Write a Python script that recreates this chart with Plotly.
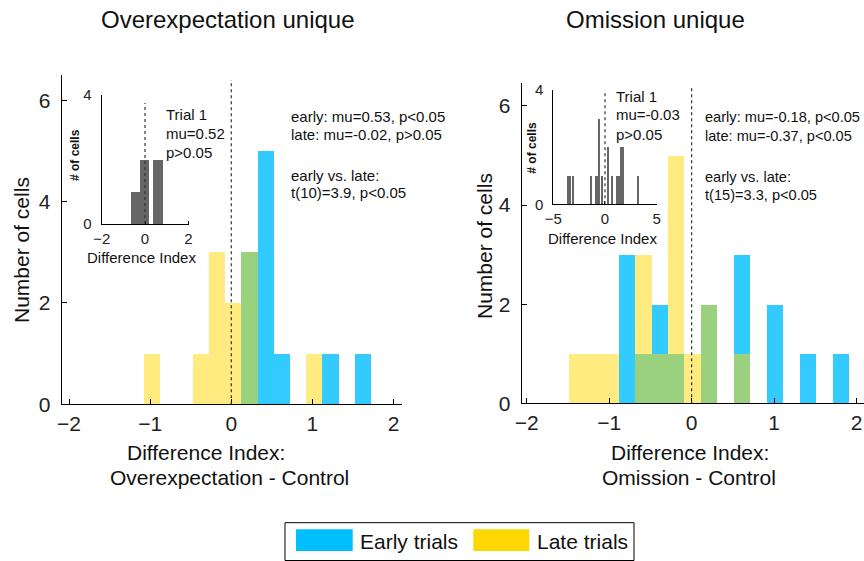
import plotly.graph_objects as go

# ---------------- data ----------------
# Overexpectation unique: bin centres (width 0.2) and counts
ov_centers = [-0.98, -0.78, -0.58, -0.38, -0.18, 0.02, 0.22, 0.42, 0.62, 0.82, 1.02, 1.22, 1.42, 1.62]
ov_early = [0, 0, 0, 0, 0, 0, 3, 5, 1, 0, 0, 1, 0, 1]
ov_late = [1, 0, 0, 1, 3, 2, 3, 0, 0, 0, 1, 0, 0, 0]

# Omission unique
om_centers = [-1.39, -1.19, -0.99, -0.79, -0.59, -0.39, -0.19, 0.01, 0.21, 0.41, 0.61, 0.81, 1.01, 1.21, 1.41, 1.61, 1.81]
om_early = [0, 0, 0, 3, 1, 2, 1, 0, 2, 0, 3, 0, 2, 0, 1, 0, 1]
om_late = [1, 1, 1, 0, 3, 1, 5, 1, 2, 0, 1, 0, 0, 0, 0, 0, 0]

# Insets: trial 1 histograms
ov_t1_centers = [-0.46, -0.03, 0.58]
ov_t1_counts = [1, 2, 2]
om_t1_centers = [-3.5, -3.33, -3.0, -1.33, -0.82, -0.66, -0.53, -0.27, 0.32, 0.72, 1.21, 1.37, 1.6, 1.76, 3.22]
om_t1_counts = [1, 1, 1, 1, 1, 1, 3, 1, 2, 1, 1, 1, 2, 2, 1]

main_ticks_x = [-2, -1, 0, 1, 2]
main_ticks_y = [0, 2, 4, 6]

ov_stats = ["early: mu=0.53, p<0.05", "late: mu=-0.02, p>0.05", "early vs. late:", "t(10)=3.9, p<0.05"]
om_stats = ["early: mu=-0.18, p<0.05", "late: mu=-0.37, p<0.05", "early vs. late:", "t(15)=3.3, p<0.05"]
ov_trial = ["Trial 1", "mu=0.52", "p>0.05"]
om_trial = ["Trial 1", "mu=-0.03", "p>0.05"]

BLUE = "#00BFFF"
GOLD = "#FFD700"
GRAY = "#666666"
FONT = "Liberation Sans, Arial, sans-serif"

W, H = 864, 561


def px(x):
    return x / W


def py(y):
    return 1 - y / H


fig = go.Figure()

# main bars
for xa, ya, cen, e, l in [("x", "y", ov_centers, ov_early, ov_late),
                          ("x2", "y2", om_centers, om_early, om_late)]:
    fig.add_trace(go.Bar(x=cen, y=e, width=0.2, marker=dict(color=BLUE, line=dict(width=0)),
                         opacity=0.8, xaxis=xa, yaxis=ya, showlegend=False))
    fig.add_trace(go.Bar(x=cen, y=l, width=0.2, marker=dict(color=GOLD, line=dict(width=0)),
                         opacity=0.5, xaxis=xa, yaxis=ya, showlegend=False))

# insets
fig.add_trace(go.Bar(x=ov_t1_centers, y=ov_t1_counts, width=0.44,
                     marker=dict(color=GRAY, line=dict(width=0)), xaxis="x3", yaxis="y3", showlegend=False))
fig.add_trace(go.Bar(x=om_t1_centers, y=om_t1_counts, width=0.15,
                     marker=dict(color=GRAY, line=dict(width=0)), xaxis="x4", yaxis="y4", showlegend=False))

axis_common = dict(showline=True, linecolor="black", linewidth=1, ticks="inside", ticklen=5,
                   tickcolor="black", showgrid=False, zeroline=False, automargin=False,
                   tickfont=dict(family=FONT, size=21, color="#222"))
inset_common = dict(axis_common)
inset_common["tickfont"] = dict(family=FONT, size=15, color="#222")
inset_common["ticklen"] = 3

fig.update_layout(
    width=W, height=H, margin=dict(l=0, r=0, t=0, b=0, pad=0, autoexpand=False),
    paper_bgcolor="white", plot_bgcolor="rgba(0,0,0,0)",
    barmode="overlay", bargap=0,
    font=dict(family=FONT, color="#222"),
    xaxis=dict(axis_common, domain=[px(61.7), px(401.7)], range=[-2.09, 2.1],
               tickvals=main_ticks_x, anchor="y"),
    yaxis=dict(axis_common, domain=[py(404.3), py(75)], range=[0, 6.5],
               tickvals=main_ticks_y, anchor="x", ticklabelstandoff=6),
    xaxis2=dict(axis_common, domain=[px(521.7), 1.0], range=[-2.06, 2.09],
                tickvals=main_ticks_x, anchor="y2"),
    yaxis2=dict(axis_common, domain=[py(403.3), py(82.7)], range=[0, 6.47],
                tickvals=main_ticks_y, anchor="x2", ticklabelstandoff=6),
    xaxis3=dict(inset_common, domain=[px(101.7), px(189.4)], range=[-2, 2.05],
                tickvals=[-2, 0, 2], anchor="y3", ticklabelstandoff=1),
    yaxis3=dict(inset_common, domain=[py(224), py(95)], range=[0, 4],
                tickvals=[0, 4], anchor="x3", ticklabelstandoff=6),
    xaxis4=dict(inset_common, domain=[px(553.3), px(657)], range=[-5, 5.03],
                tickvals=[-5, 0, 5], anchor="y4", ticklabelstandoff=1),
    yaxis4=dict(inset_common, domain=[py(204.3), py(90)], range=[0, 4],
                tickvals=[0, 4], anchor="x4", ticklabelstandoff=6),
)

shapes = []
# dotted zero lines
for xr, yr, top in [("x", "y", 6.4), ("x2", "y2", 6.36), ("x3", "y3", 3.75), ("x4", "y4", 4)]:
    shapes.append(dict(type="line", xref=xr, yref=yr, x0=0, x1=0, y0=0, y1=top,
                       line=dict(color="#333", width=1.2, dash="dot"), layer="above"))
# legend
shapes.append(dict(type="rect", xref="paper", yref="paper", x0=px(285), x1=px(634), y0=py(560.5), y1=py(522.7),
                   line=dict(color="black", width=1), fillcolor="white"))
shapes.append(dict(type="rect", xref="paper", yref="paper", x0=px(296), x1=px(352.7), y0=py(551), y1=py(529.3),
                   line=dict(width=0), fillcolor=BLUE))
shapes.append(dict(type="rect", xref="paper", yref="paper", x0=px(473.3), x1=px(529.3), y0=py(551), y1=py(529.3),
                   line=dict(width=0), fillcolor=GOLD))
fig.update_layout(shapes=shapes)

ann = []


def text(t, x, y, size, xanchor="center", angle=0, bold=False):
    ann.append(dict(text=("<b>%s</b>" % t) if bold else t, x=px(x), y=py(y), xref="paper", yref="paper",
                    showarrow=False, xanchor=xanchor, yanchor="middle", textangle=angle,
                    font=dict(family=FONT, size=size, color="#111")))


# titles
text("Overexpectation unique", 227.5, 20, 24)
text("Omission unique", 655, 20, 24)
# y titles
text("Number of cells", 22, 250, 21, angle=-90)
text("Number of cells", 484, 246, 21, angle=-90)
# x titles
text("Difference Index:", 206, 452, 21)
text("Overexpectation - Control", 229.5, 477, 21)
text("Difference Index:", 690, 452, 21)
text("Omission - Control", 689, 477, 21)
# stats
for t, y in zip(ov_stats, [117, 135, 175, 193]):
    text(t, 289, y, 15, xanchor="left")
for t, y in zip(om_stats, [117, 136, 177, 195]):
    text(t, 703, y, 14.6, xanchor="left")
for t, y in zip(ov_trial, [114, 133, 152]):
    text(t, 164, y, 15, xanchor="left")
for t, y in zip(om_trial, [96, 115, 134]):
    text(t, 614, y, 15, xanchor="left")
# inset labels
text("Difference Index", 141.7, 257, 15)
text("Difference Index", 602.5, 238, 15)
text("# of cells", 75, 155, 12, angle=-90, bold=True)
text("# of cells", 531.7, 148, 12, angle=-90, bold=True)
# legend labels
text("Early trials", 358, 541, 21, xanchor="left")
text("Late trials", 535, 541, 21, xanchor="left")

fig.update_layout(annotations=ann)

fig.write_html("out.html", config={"displayModeBar": False},
               post_script="document.body.style.margin='0';document.body.style.overflow='hidden';")
